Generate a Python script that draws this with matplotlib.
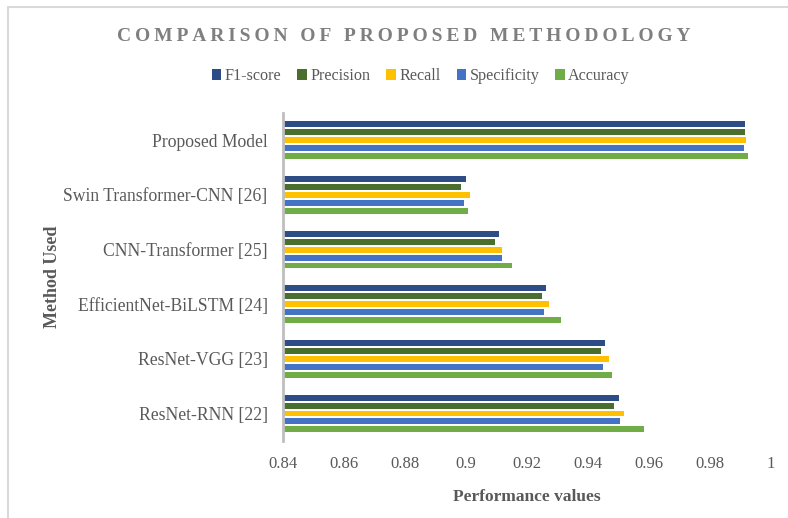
import matplotlib.pyplot as plt
import numpy as np
from matplotlib.patches import Rectangle

methods = ['ResNet-RNN [22]', 'ResNet-VGG [23]', 'EfficientNet-BiLSTM [24]',
           'CNN-Transformer [25]', 'Swin Transformer-CNN [26]', 'Proposed Model']
metrics = ['F1-score', 'Precision', 'Recall', 'Specificity', 'Accuracy']

f1 = [0.9501, 0.9458, 0.9262, 0.9109, 0.9000, 0.9917]
precision = [0.9485, 0.9445, 0.9251, 0.9097, 0.8985, 0.9917]
recall = [0.9520, 0.9470, 0.9274, 0.9118, 0.9015, 0.9920]
specificity = [0.9507, 0.9451, 0.9256, 0.9118, 0.8993, 0.9911]
accuracy = [0.9583, 0.9480, 0.9311, 0.9150, 0.9007, 0.9927]

colors = ['#2E4C85', '#4A6E2E', '#FFC000', '#4472C4', '#70AD47']
xticks = [0.84, 0.86, 0.88, 0.9, 0.92, 0.94, 0.96, 0.98, 1.0]
xticklabels = ['0.84', '0.86', '0.88', '0.9', '0.92', '0.94', '0.96', '0.98', '1']

plt.rcParams['font.family'] = ['Liberation Serif', 'DejaVu Serif']
grey = '#595959'

fig = plt.figure(figsize=(7.88, 5.18), dpi=100)
ax = fig.add_axes([0.359, 0.149, 0.619, 0.633])

series = [f1, precision, recall, specificity, accuracy]
y = np.arange(len(methods))
slot = 0.146
for i, (vals, name, c) in enumerate(zip(series, metrics, colors)):
    off = (2 - i) * slot
    ax.barh(y + off, np.array(vals) - 0.84, left=0.84, height=slot * 0.75,
            color=c, label=name)

ax.set_xlim(0.84, 1.0)
ax.set_ylim(-0.5, 5.5)
ax.set_yticks(y)
ax.set_yticklabels(methods, fontsize=12.7, color=grey)
ax.set_xticks(xticks)
ax.set_xticklabels(xticklabels, fontsize=12, color=grey)
ax.tick_params(axis='both', length=0)
ax.tick_params(axis='y', pad=11)
ax.tick_params(axis='x', pad=11)
for s in ['top', 'right', 'bottom']:
    ax.spines[s].set_visible(False)
ax.spines['left'].set_color('#BFBFBF')
ax.spines['left'].set_linewidth(2)

ax.set_xlabel('Performance values', fontsize=12.5, fontweight='bold', color=grey, labelpad=12)
ax.set_ylabel('Method Used', fontsize=13, fontweight='bold', color=grey, labelpad=2)

title = '\u2009'.join('COMPARISON OF PROPOSED METHODOLOGY')
fig.text(0.513, 0.93, title, ha='center', va='center', fontsize=14,
         fontweight='bold', color='#7F7F7F', family=['Liberation Serif', 'DejaVu Serif'])

fig.legend(*ax.get_legend_handles_labels(), loc='center', bbox_to_anchor=(0.534, 0.853),
           ncol=5, frameon=False, fontsize=11.6, handlelength=0.6, handleheight=0.6,
           handletextpad=0.2, columnspacing=1.0, labelcolor=grey)

fig.patches.append(Rectangle((8 / 788, -0.1), 1.2, 1.1 - 7 / 518, transform=fig.transFigure,
                             fill=False, edgecolor='#D9D9D9', linewidth=1.5))

fig.savefig('out.png', dpi=100)
